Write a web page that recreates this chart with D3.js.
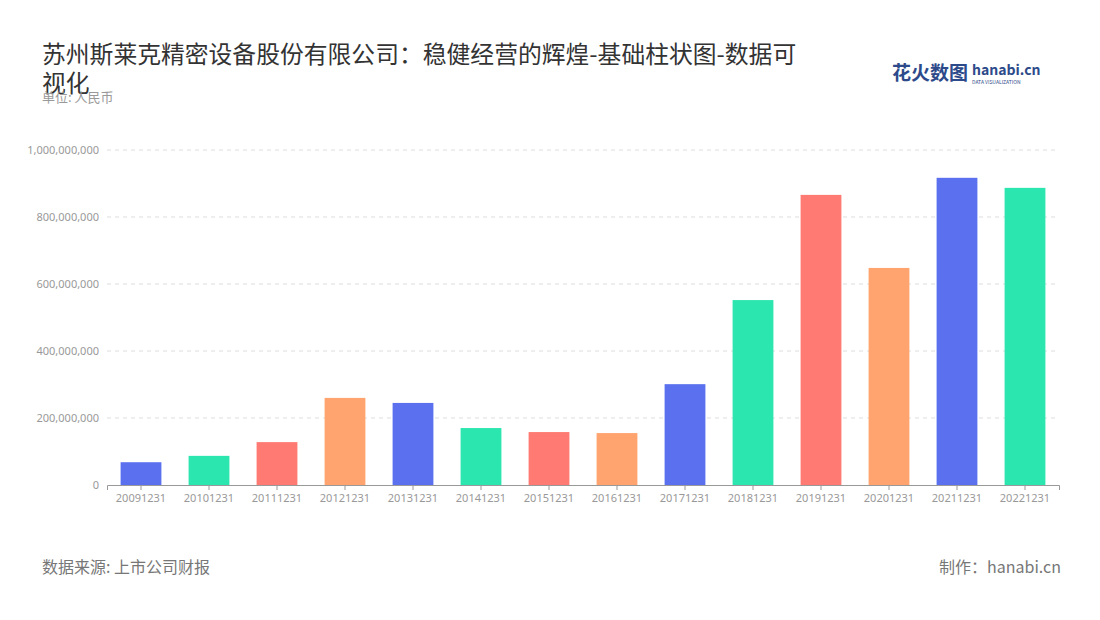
<!DOCTYPE html>
<html><head><meta charset="utf-8">
<script src="https://cdn.jsdelivr.net/npm/d3@7"></script>
<style>body{margin:0;background:#fff;font-family:"Noto Sans CJK SC","Noto Sans",sans-serif}</style>
</head><body><svg id="c" width="1100" height="620"></svg>
<script>
const categories=["20091231","20101231","20111231","20121231","20131231","20141231","20151231","20161231","20171231","20181231","20191231","20201231","20211231","20221231"];
const values=[68000000,87000000,128000000,260000000,245000000,170000000,158000000,155000000,301000000,552000000,866000000,648000000,917000000,887000000];
const colors=["#5b70ee","#2ce6b0","#ff7a72","#ffa46e"];
const yTicks=[0,200000000,400000000,600000000,800000000,1000000000];

const svg=d3.select("#c");
const x=d3.scaleBand().domain(categories).range([107,1059]).paddingInner(0.4).paddingOuter(0.2);
const y=d3.scaleLinear().domain([0,1e9]).range([485,150]);

svg.append("text").attr("x",42).attr("y",63).attr("font-size",23.8).attr("fill","#333").text("苏州斯莱克精密设备股份有限公司：稳健经营的辉煌-基础柱状图-数据可");
svg.append("text").attr("x",42).attr("y",92).attr("font-size",23.8).attr("fill","#333").text("视化");
svg.append("text").attr("x",42).attr("y",102).attr("font-size",13).attr("fill","#999").text("单位: 人民币");
svg.append("text").attr("x",892).attr("y",80).attr("font-size",19).attr("font-weight","bold").attr("fill","#2d4a8a").text("花火数图");
svg.append("text").attr("x",972).attr("y",75).attr("font-size",14).attr("font-weight","bold").attr("fill","#2d4a8a").text("hanabi.cn");
svg.append("text").attr("x",972).attr("y",84).attr("font-size",5).attr("fill","#2d4a8a").text("DATA VISUALIZATION");

const ya=svg.append("g").attr("transform","translate(107,0)")
 .call(d3.axisLeft(y).tickValues(yTicks).tickFormat(d3.format(",")).tickSize(0).tickPadding(8));
ya.select(".domain").remove();
ya.selectAll("text").attr("fill","#999").attr("font-size",11).attr("font-family","Noto Sans");
svg.append("g").selectAll("line").data(yTicks.slice(1)).join("line")
 .attr("x1",107).attr("x2",1059).attr("y1",d=>y(d)).attr("y2",d=>y(d))
 .attr("stroke","#ddd").attr("stroke-dasharray","4,4");

svg.append("g").selectAll("rect").data(values).join("rect")
 .attr("x",(d,i)=>x(categories[i])).attr("width",x.bandwidth())
 .attr("y",d=>y(d)).attr("height",d=>485-y(d)).attr("fill",(d,i)=>colors[i%4]);

const xa=svg.append("g").attr("transform","translate(0,485)").call(d3.axisBottom(x).tickSize(5).tickPadding(4));
xa.select(".domain").attr("stroke","#999");
xa.selectAll("line").attr("stroke","#999");
xa.selectAll("text").attr("fill","#999").attr("font-size",11).attr("font-family","Noto Sans");

svg.append("text").attr("x",42).attr("y",573).attr("font-size",16).attr("fill","#777").text("数据来源: 上市公司财报");
svg.append("text").attr("x",1061).attr("y",573).attr("text-anchor","end").attr("font-size",16).attr("fill","#777").text("制作：hanabi.cn");
</script></body></html>
